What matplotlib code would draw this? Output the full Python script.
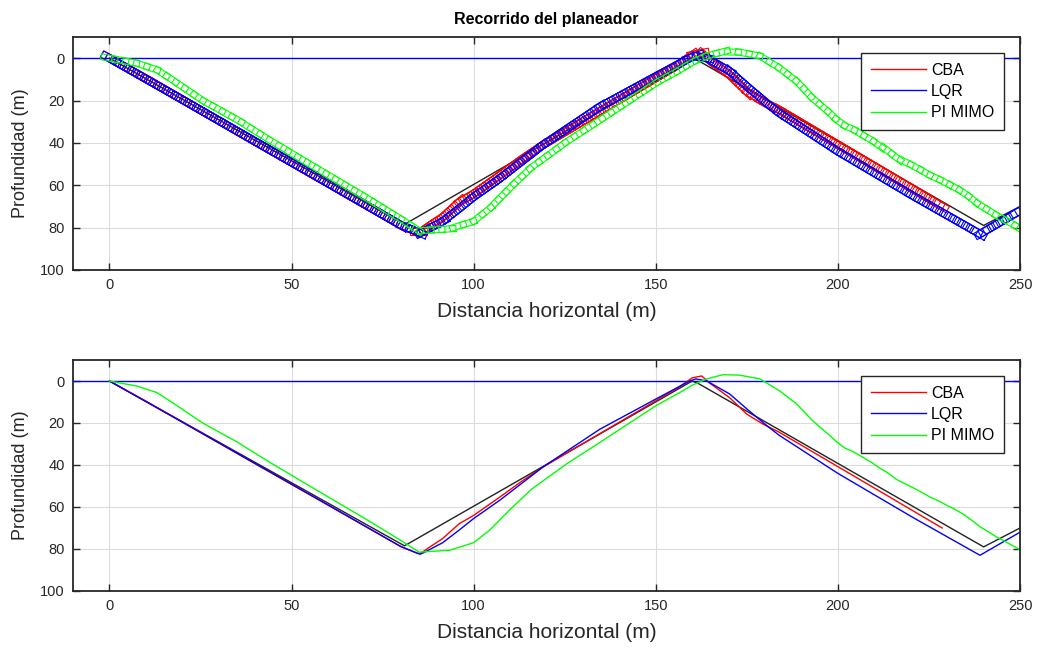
import matplotlib
matplotlib.use('Agg')
import matplotlib.pyplot as plt
import numpy as np

plt.rcParams['font.family'] = ['Liberation Sans', 'DejaVu Sans']

# trayectoria de referencia
x_ref = [0, 81, 160, 162, 240, 250]
y_ref = [0, 78.5, 0, 1.5, 79, 70]

# CBA
x_cba = [0, 10, 20, 40, 60, 80, 84.5, 85.5, 88, 91.5, 96, 100, 107, 113, 119, 130, 140, 150,
         156, 160, 162.6, 164.8, 170.3, 175, 179.4, 184, 190, 200, 211.5, 220, 228.6]
y_cba = [0, 9.6, 19.5, 39.4, 59.1, 78.9, 82, 82, 79, 75, 68, 64, 55.5, 48, 41, 29.8, 19.6, 9.4,
         3.3, -1.5, -2.4, 1.0, 8, 15.8, 20.5, 24.5, 30.6, 40.8, 52.5, 61.2, 70]

# LQR
x_lqr = [0, 20, 40, 60, 80, 85.2, 86, 91.5, 96, 100, 107, 119, 134.6, 150, 159.3, 161, 164,
         170.3, 175, 180.5, 184, 200, 220.6, 239, 240, 250]
y_lqr = [0, 19.6, 39.3, 59, 78.8, 82.5, 82, 77, 71, 65.5, 57, 41, 23, 8.6, 0, -1, 0,
         6.2, 13.3, 21.3, 26, 44, 65, 83, 82, 72]

# PI MIMO
x_pi = [0, 7.5, 13, 16.6, 25.6, 35, 44, 53, 62.5, 71.6, 80.6, 85, 93.4, 100, 104.4, 110.7, 116,
        125.5, 134.6, 150, 156.6, 160, 164, 168.4, 173, 178.6, 184, 188.7, 193.1, 197.8,
        200, 202, 204, 206.5, 209, 211.5, 213.5, 216, 218.5, 220.6, 223, 225.3, 227.5, 230,
        232, 234.3, 236.5, 239, 241, 243.7, 246, 249.2, 250]
y_pi = [0, 2.4, 5.5, 9.5, 20, 29, 38.7, 48, 57.7, 67, 76.6, 81.5, 80.6, 77, 71, 60, 51.4,
        39.5, 29.3, 11.8, 5.5, 2, -1, -3, -2.8, -1, 4.7, 11, 19, 26,
        29.5, 32, 33.5, 36, 38.5, 41.5, 43.5, 46.8, 49, 50.8, 53, 55.3, 57, 59.3,
        61, 63.3, 66, 69.4, 71.5, 74.4, 76.5, 79.6, 80.5]

series = [
    ('CBA', x_cba, y_cba, 'r', 5, 7.0),
    ('LQR', x_lqr, y_lqr, 'b', 5, 7.0),
    ('PI MIMO', x_pi, y_pi, (0, 1, 0), 11, 6.0),
]

# escala aproximada en pixeles por metro (para dibujar el planeador sin deformar)
sx = 3.64
sy = 2.12
glider_len = 17.0


def draw_gliders(ax, xs, ys, color, step, wid):
    xs = np.asarray(xs, float)
    ys = np.asarray(ys, float)
    px = xs * sx
    py = ys * sy
    seg = np.hypot(np.diff(px), np.diff(py))
    s = np.concatenate([[0], np.cumsum(seg)])
    for d in np.arange(0, s[-1] + 0.01, step):
        i = min(np.searchsorted(s, d, side='right') - 1, len(seg) - 1)
        t = (d - s[i]) / seg[i] if seg[i] > 0 else 0
        cx = px[i] + t * (px[i + 1] - px[i])
        cy = py[i] + t * (py[i + 1] - py[i])
        ux = (px[i + 1] - px[i]) / seg[i]
        uy = (py[i + 1] - py[i]) / seg[i]
        vx, vy = -uy, ux
        L = glider_len / 2
        W = wid / 2
        cxs = [cx + L * ux + W * vx, cx + L * ux - W * vx, cx - L * ux - W * vx,
               cx - L * ux + W * vx, cx + L * ux + W * vx]
        cys = [cy + L * uy + W * vy, cy + L * uy - W * vy, cy - L * uy - W * vy,
               cy - L * uy + W * vy, cy + L * uy + W * vy]
        ax.plot(np.array(cxs) / sx, np.array(cys) / sy, color=color, lw=0.8)


def style_axes(ax):
    ax.set_xlim(-10, 250)
    ax.set_ylim(100, -10)
    ax.set_xticks([0, 50, 100, 150, 200, 250])
    ax.set_yticks([0, 20, 40, 60, 80, 100])
    ax.grid(True, color='#dcdcdc', lw=0.8)
    ax.set_axisbelow(True)
    ax.tick_params(direction='in', top=True, right=True, length=5, width=1,
                   labelsize=10.5, colors='#262626', pad=6)
    for sp in ax.spines.values():
        sp.set_color('#262626')
        sp.set_linewidth(1.3)
    ax.set_xlabel('Distancia horizontal (m)', fontsize=15, color='#262626', labelpad=7)
    ax.set_ylabel('Profundidad (m)', fontsize=13, color='#262626', labelpad=8)


fig = plt.figure(figsize=(10.4, 6.51), dpi=100)
ax1 = fig.add_axes([0.0702, 0.5853, 0.9106, 0.3579])
ax2 = fig.add_axes([0.0702, 0.0922, 0.9106, 0.3548])

for ax in (ax1, ax2):
    ax.axhline(0, color='b', lw=1)
    ax.plot(x_ref, y_ref, color='#222222', lw=1)

handles = []
for name, xs, ys, c, step, wid in series:
    draw_gliders(ax1, xs, ys, c, step, wid)
    h, = ax2.plot(xs, ys, color=c, lw=1, label=name)
    handles.append(h)

for ax in (ax1, ax2):
    style_axes(ax)
    leg = ax.legend(handles, [h.get_label() for h in handles], loc='upper right',
                    fontsize=11.5, handlelength=3.45, handletextpad=0.35, labelspacing=0.4,
                    borderpad=0.6, borderaxespad=1.0, fancybox=False, framealpha=1,
                    edgecolor='#262626')
    leg.get_frame().set_linewidth(1.0)

ax1.set_title('Recorrido del planeador', fontsize=11.5, fontweight='bold', pad=9)

plt.savefig('out.png')
plt.close()
